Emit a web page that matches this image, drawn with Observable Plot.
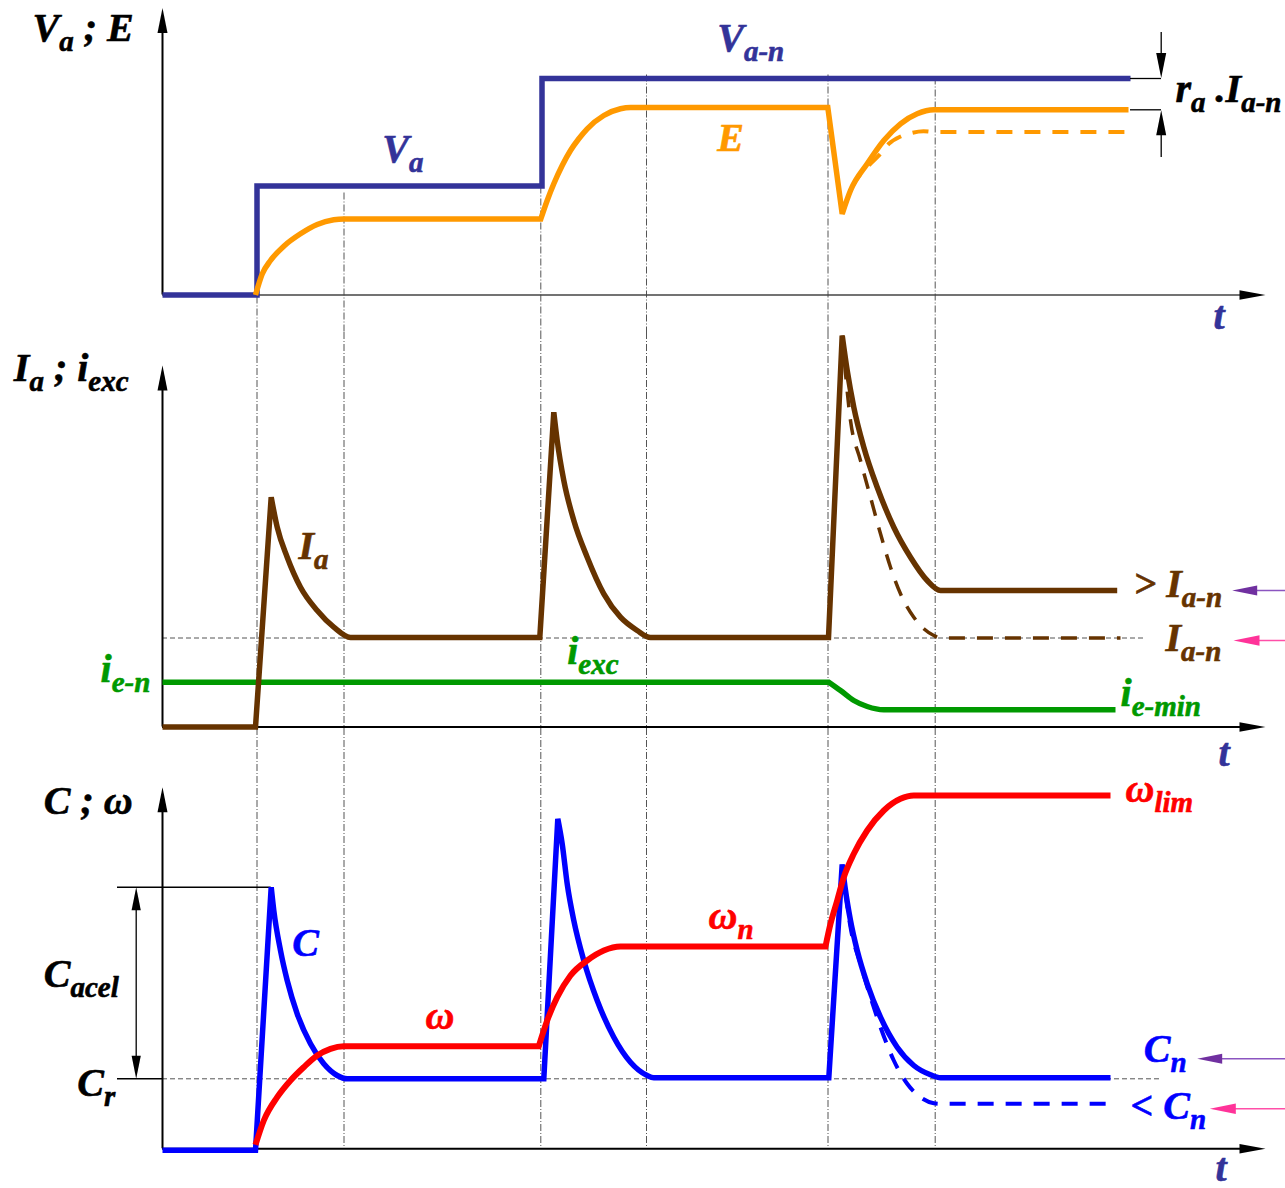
<!DOCTYPE html>
<html><head><meta charset="utf-8">
<script src="https://cdn.jsdelivr.net/npm/d3@7"></script>
<script src="https://cdn.jsdelivr.net/npm/@observablehq/plot@0.6"></script>
<style>
html,body{margin:0;padding:0;background:#fff;}
#chart{width:1285px;}
#chart svg{display:block;overflow:visible;background:transparent;}
</style></head><body><div id="chart"></div>
<script>
// ---------- DATA (time t) ----------
// Panel 1 : V_a and E
const vaT = [0, 94.5, 94.5, 379.5, 379.5, 968];
const vaV = [0, 0, 109, 109, 216.5, 216.5];
const eT = [93, 99.7, 108, 121.3, 138, 154.7, 171.3, 181.3, 378.3, 384.7, 391.3, 399.7, 408, 416.3, 424.7, 441.3, 458, 468, 665.3, 679.7, 688, 704.7, 721.3, 738, 754.7, 771.3, 966];
const eV = [0, 21, 34.5, 48.8, 61.2, 70.5, 75.2, 76, 76, 94.5, 111.2, 129.5, 144.5, 156.2, 166.2, 179.5, 186.2, 187.5, 187.5, 81.2, 104.5, 131.2, 154.5, 171.2, 181.2, 185.2, 185.2];
const eKinks = [8, 18, 19];
const eDashT = [679.7, 688, 706.3, 718, 726.3, 738, 748, 761, 771.3, 970];
const eDashV = [81.2, 104.5, 129.5, 141.2, 151.2, 158.5, 161.8, 163.8, 163, 163];
// Panel 2 : I_a and i_exc
const iaT = [0, 93, 108.7, 114.7, 124.7, 138, 154.7, 171.3, 188, 377.3, 391.3, 394.7, 401.3, 411.3, 424.7, 441.3, 458, 474.7, 488, 666, 679.7, 684.7, 691.3, 701.3, 714.7, 731.3, 748, 764.7, 778, 954.7];
const iaV = [0, 0, 229.8, 199.8, 169.8, 139.8, 116.5, 99.8, 89.5, 89.5, 314.8, 286.5, 246.5, 206.5, 169.8, 133.2, 109.8, 96.5, 89.5, 89.5, 391.5, 356.5, 319.8, 279.8, 239.8, 199.8, 169.8, 146.5, 136.5, 136.5];
const iaKinks = [1, 2, 9, 10, 19, 20];
const iaDashT = [679.7, 688, 698, 708, 718, 728, 738, 751.3, 761.3, 771.3, 778, 958];
const iaDashV = [391.5, 306.5, 266.5, 229.8, 193.2, 159.8, 133.2, 109.8, 98.2, 91.5, 89, 89];
const iexcT = [0, 666.3, 678, 691.3, 704.7, 721.3, 953];
const iexcV = [44.8, 44.8, 36.5, 26.5, 20.5, 17.2, 17.2];
const iexcKinks = [1];
const iaNominal = 89;
// Panel 3 : C and omega
const cT = [0, 93, 108.7, 111.3, 118, 124.7, 134.7, 148, 161.3, 174.7, 184.7, 381.3, 395.3, 399.7, 404.7, 411.3, 421.3, 434.7, 451.3, 468, 484.7, 491.3, 666.3, 679.7, 683, 688, 694.7, 704.7, 718, 734.7, 751.3, 768, 778, 948];
const cV = [-1.5, -1.5, 261.6, 238.3, 198.3, 168.3, 135, 105, 85, 73.3, 70, 70, 330, 305, 265, 228.3, 188.3, 148.3, 111.6, 86.6, 73.3, 71, 71, 284.3, 258.3, 228.3, 198.3, 165, 131.6, 101.6, 83.3, 74, 71, 71];
const cKinks = [1, 2, 11, 12, 22, 23];
const cDashT = [679.7, 688, 698, 708, 718, 731.3, 744.7, 758, 771.3, 778, 949.7];
const cDashV = [284.3, 221.6, 185, 151.6, 121.6, 88.3, 65, 51.6, 45.6, 45, 45];
const wT = [93, 101.3, 114.7, 128, 141.3, 154.7, 168, 181.3, 376.3, 384.7, 394.7, 408, 424.7, 441.3, 458, 663, 668, 674.7, 681.3, 691.3, 704.7, 721.3, 738, 751.3, 948];
const wV = [4, 28.3, 51.6, 68.3, 81.6, 93.3, 100, 102.6, 102.6, 128.3, 151.6, 173.3, 188.3, 198.3, 202.3, 202.3, 225, 248.3, 271.6, 295, 318.3, 338.3, 350, 353.3, 353.3];
const wKinks = [8, 15];
const cR = 70;
const cAcelTop = 261.6;
// instants marked by the dash-dot guides
const guideT = [94.5, 181.5, 378.3, 484, 665.5, 772.7];
const guideStartP1 = [106, 102, 216, 220, 220, 217];

// ---------- ANNOTATIONS ----------
const labels1 = [
  {s: "V_{a} ; E", t: -130, h: 254.5, c: "#000000"},
  {s: "V_{a}", t: 219.7, h: 132.8, c: "#333399"},
  {s: "V_{a-n}", t: 554.7, h: 244.5, c: "#333399"},
  {s: "E", t: 554.7, h: 144.5, c: "#FF9900"},
  {s: "r_{a} .I_{a-n}", t: 1013, h: 192.8, c: "#000000"},
  {s: "t", t: 1051, h: -33.5, c: "#333399"}
];
const labels2 = [
  {s: "I_{a} ; i_{exc}", t: -148.7, h: 346.5, c: "#000000"},
  {s: "I_{a}", t: 136, h: 168.2, c: "#663300"},
  {s: "i_{e-n}", t: -62, h: 44.8, c: "#009900"},
  {s: "i_{exc}", t: 404.7, h: 63.2, c: "#009900"},
  {s: "> I_{a-n}", t: 971, h: 129.8, c: "#663300"},
  {s: "I_{a-n}", t: 1003, h: 76.5, c: "#663300"},
  {s: "i_{e-min}", t: 958, h: 21.5, c: "#009900"},
  {s: "t", t: 1056, h: -38.5, c: "#333399"}
];
const labels3 = [
  {s: "C ; ω", t: -118.7, h: 335, c: "#000000"},
  {s: "C_{acel}", t: -118.7, h: 161.6, c: "#000000"},
  {s: "C_{r}", t: -85.3, h: 53.3, c: "#000000"},
  {s: "C", t: 129.7, h: 193.3, c: "#0000FF"},
  {s: "ω", t: 263, h: 120, c: "#FF0000"},
  {s: "ω_{n}", t: 546, h: 220, c: "#FF0000"},
  {s: "ω_{lim}", t: 963, h: 346.6, c: "#FF0000"},
  {s: "C_{n}", t: 981.3, h: 86.6, c: "#0000FF"},
  {s: "< C_{n}", t: 968, h: 30, c: "#0000FF"},
  {s: "t", t: 1053, h: -32.5, c: "#333399"}
];

// ---------- LAYOUT ----------
const W = 1285, ML = 162, MR = 20, TMAX = 1103, TEND = 1123;
const P1 = {height: 332, mt: 7.5, mb: 37.5, top: 287};
const P2 = {height: 444, mt: 33, mb: 49.5, top: 361.5};
const P3 = {height: 412, mt: 10.7, mb: 39.7, top: 361.6};
const FONT = "Liberation Serif, Times New Roman, serif";
const FS = 40, SUBFS = 29, SUBDY = 10;

// smooth (monotone) curve that keeps sharp corners at the given point indices
function kinkedMonotone(kinks) {
  const K = new Set(kinks);
  return function(context) {
    let pts = [];
    const draw = (piece, first) => {
      const proxy = {
        moveTo(x, y) { if (first) context.moveTo(x, y); },
        lineTo(x, y) { context.lineTo(x, y); },
        bezierCurveTo(a, b, c, d, e, f) { context.bezierCurveTo(a, b, c, d, e, f); },
        closePath() {}
      };
      const cv = d3.curveMonotoneX(proxy);
      cv.lineStart();
      for (const [x, y] of piece) cv.point(x, y);
      cv.lineEnd();
    };
    return {
      areaStart() {}, areaEnd() {},
      lineStart() { pts = []; },
      point(x, y) { pts.push([+x, +y]); },
      lineEnd() {
        let start = 0, first = true;
        for (let i = 1; i < pts.length; i++) {
          if (K.has(i) || i === pts.length - 1) {
            draw(pts.slice(start, i + 1), first);
            first = false; start = i;
          }
        }
      }
    };
  };
}

// filled arrowheads as custom dot symbols (tip at the anchor)
function head(dir, ratio) {
  return {draw(ctx, size) {
    const L = Math.sqrt(size / Math.PI), w = L * ratio;
    ctx.moveTo(0, 0);
    if (dir === "up") { ctx.lineTo(-w, L); ctx.lineTo(w, L); }
    if (dir === "down") { ctx.lineTo(-w, -L); ctx.lineTo(w, -L); }
    if (dir === "right") { ctx.lineTo(-L, -w); ctx.lineTo(-L, w); }
    if (dir === "left") { ctx.lineTo(L, -w); ctx.lineTo(L, w); }
    ctx.closePath();
  }};
}
function heads(list) {
  return list.map(a => Plot.dot([a], {x: "t", y: "h", symbol: head(a.dir, a.w || 0.2), r: a.L, fill: a.c || "black", stroke: "none"}));
}
function line(T, V, kinks, o) {
  return Plot.line(T, {x: T, y: V, curve: kinks ? kinkedMonotone(kinks) : "linear",
    strokeLinejoin: "miter", strokeMiterlimit: 2, strokeLinecap: "butt", ...o});
}
function labelMark(labels) {
  return Plot.text(labels, {x: "t", y: "h", text: "s", fill: "c", stroke: "c", strokeWidth: 0.6,
    textAnchor: "start", lineAnchor: "bottom",
    fontSize: FS, fontWeight: "bold", fontStyle: "italic", fontFamily: FONT});
}
function guides(y1, y2) {
  return Plot.ruleX(guideT, {x: d => d, y1, y2, stroke: "#555", strokeWidth: 1, strokeDasharray: "7,2,1,2"});
}
function frame(P, marks) {
  return Plot.plot({
    width: W, height: P.height, marginLeft: ML, marginRight: MR, marginTop: P.mt, marginBottom: P.mb,
    x: {domain: [0, TMAX], axis: null},
    y: {domain: [0, P.top], axis: null},
    color: {type: "identity"},
    marks
  });
}
function axes(P, xColor, xWidth) {
  return [
    Plot.ruleY([0], {x1: 0, x2: TMAX - 10, stroke: xColor, strokeWidth: xWidth}),
    Plot.ruleX([0], {y1: 0, y2: P.top - 10, stroke: "black", strokeWidth: 2}),
    ...heads([{t: 0, h: P.top, dir: "up", L: 25}, {t: TMAX, h: 0, dir: "right", L: 26, w: 0.18}])
  ];
}
const LW = 5.5, DW = 4, DASH = "16,12";

// ---------- PANEL 1 ----------
const svg1 = frame(P1, [
  guides((d, i) => guideStartP1[i], -P1.mb),
  ...axes(P1, "#444", 1.5),
  line(vaT, vaV, null, {stroke: "#333399", strokeWidth: LW}),
  line(eDashT, eDashV, [], {stroke: "#FF9900", strokeWidth: DW, strokeDasharray: DASH}),
  line(eT, eV, eKinks, {stroke: "#FF9900", strokeWidth: LW}),
  Plot.ruleY([vaV[5], eV[eV.length - 1]], {x1: 968, x2: 999, stroke: "black", strokeWidth: 1.3}),
  Plot.ruleX([998.7], {y1: 262.5, y2: vaV[5] + 20, stroke: "black", strokeWidth: 1.3}),
  Plot.ruleX([998.7], {y1: eV[eV.length - 1] - 20, y2: 137.5, stroke: "black", strokeWidth: 1.3}),
  ...heads([{t: 998.7, h: vaV[5] + 0.5, dir: "down", L: 25}, {t: 998.7, h: eV[eV.length - 1] - 0.5, dir: "up", L: 25}]),
  labelMark(labels1)
]);

// ---------- PANEL 2 ----------
const svg2 = frame(P2, [
  guides(P2.top + P2.mt, -P2.mb),
  Plot.ruleY([iaNominal], {x1: 0, x2: 981, stroke: "#555", strokeWidth: 1, strokeDasharray: "5,3"}),
  ...axes(P2, "black", 2),
  line(iexcT, iexcV, iexcKinks, {stroke: "#009900", strokeWidth: LW}),
  line(iaDashT, iaDashV, [], {stroke: "#663300", strokeWidth: DW - 0.5, strokeDasharray: DASH}),
  line(iaT, iaV, iaKinks, {stroke: "#663300", strokeWidth: LW}),
  Plot.ruleY([136.5], {x1: 1080, x2: TEND, stroke: "#8B55C0", strokeWidth: 1.5}),
  Plot.ruleY([86.5], {x1: 1080, x2: TEND, stroke: "#FF4FA8", strokeWidth: 1.5}),
  ...heads([{t: 1069.7, h: 136.5, dir: "left", L: 25, c: "#7030A0"}, {t: 1071, h: 86.5, dir: "left", L: 26, c: "#FF3399"}]),
  labelMark(labels2)
]);

// ---------- PANEL 3 ----------
const svg3 = frame(P3, [
  guides(P3.top + P3.mt, 0),
  Plot.ruleY([cR], {x1: 0, x2: 999, stroke: "#555", strokeWidth: 1, strokeDasharray: "5,3"}),
  Plot.ruleY([cAcelTop], {x1: -45, x2: 108.7, stroke: "black", strokeWidth: 1.5}),
  Plot.ruleY([cR], {x1: -45, x2: 0, stroke: "black", strokeWidth: 1.5}),
  Plot.ruleX([-26.3], {y1: cR + 15, y2: cAcelTop - 15, stroke: "black", strokeWidth: 1.3}),
  ...heads([{t: -26.3, h: cAcelTop, dir: "up", L: 23}, {t: -26.3, h: cR, dir: "down", L: 23}]),
  ...axes(P3, "black", 2),
  line(cDashT, cDashV, [], {stroke: "#0000FF", strokeWidth: DW, strokeDasharray: DASH}),
  line(cT, cV, cKinks, {stroke: "#0000FF", strokeWidth: LW}),
  line(wT, wV, wKinks, {stroke: "#FF0000", strokeWidth: 6}),
  Plot.ruleY([90], {x1: 1045, x2: TEND, stroke: "#8B55C0", strokeWidth: 1.5}),
  Plot.ruleY([40], {x1: 1058, x2: TEND, stroke: "#FF4FA8", strokeWidth: 1.5}),
  ...heads([{t: 1034.7, h: 90, dir: "left", L: 25, c: "#7030A0"}, {t: 1047.3, h: 40, dir: "left", L: 26, c: "#FF3399"}]),
  labelMark(labels3)
]);

const root = document.getElementById("chart");
for (const s of [svg1, svg2, svg3]) root.appendChild(s);

// rich text: turn "_{...}" into real subscript tspans
const NS = "http://www.w3.org/2000/svg";
for (const s of [svg1, svg2, svg3]) {
  s.querySelectorAll("text").forEach(t => {
    const str = t.textContent;
    t.setAttribute("xml:space", "preserve");
    t.style.whiteSpace = "pre";
    if (!str.includes("_{")) return;
    t.textContent = "";
    let inSub = false;
    for (const part of str.split(/(_\{[^}]*\})/)) {
      if (!part) continue;
      const ts = document.createElementNS(NS, "tspan");
      if (part.startsWith("_{")) {
        ts.textContent = part.slice(2, -1);
        ts.setAttribute("font-size", SUBFS);
        ts.setAttribute("dy", SUBDY);
        inSub = true;
      } else {
        ts.textContent = part;
        if (inSub) ts.setAttribute("dy", -SUBDY);
        inSub = false;
      }
      t.appendChild(ts);
    }
  });
}
</script></body></html>
